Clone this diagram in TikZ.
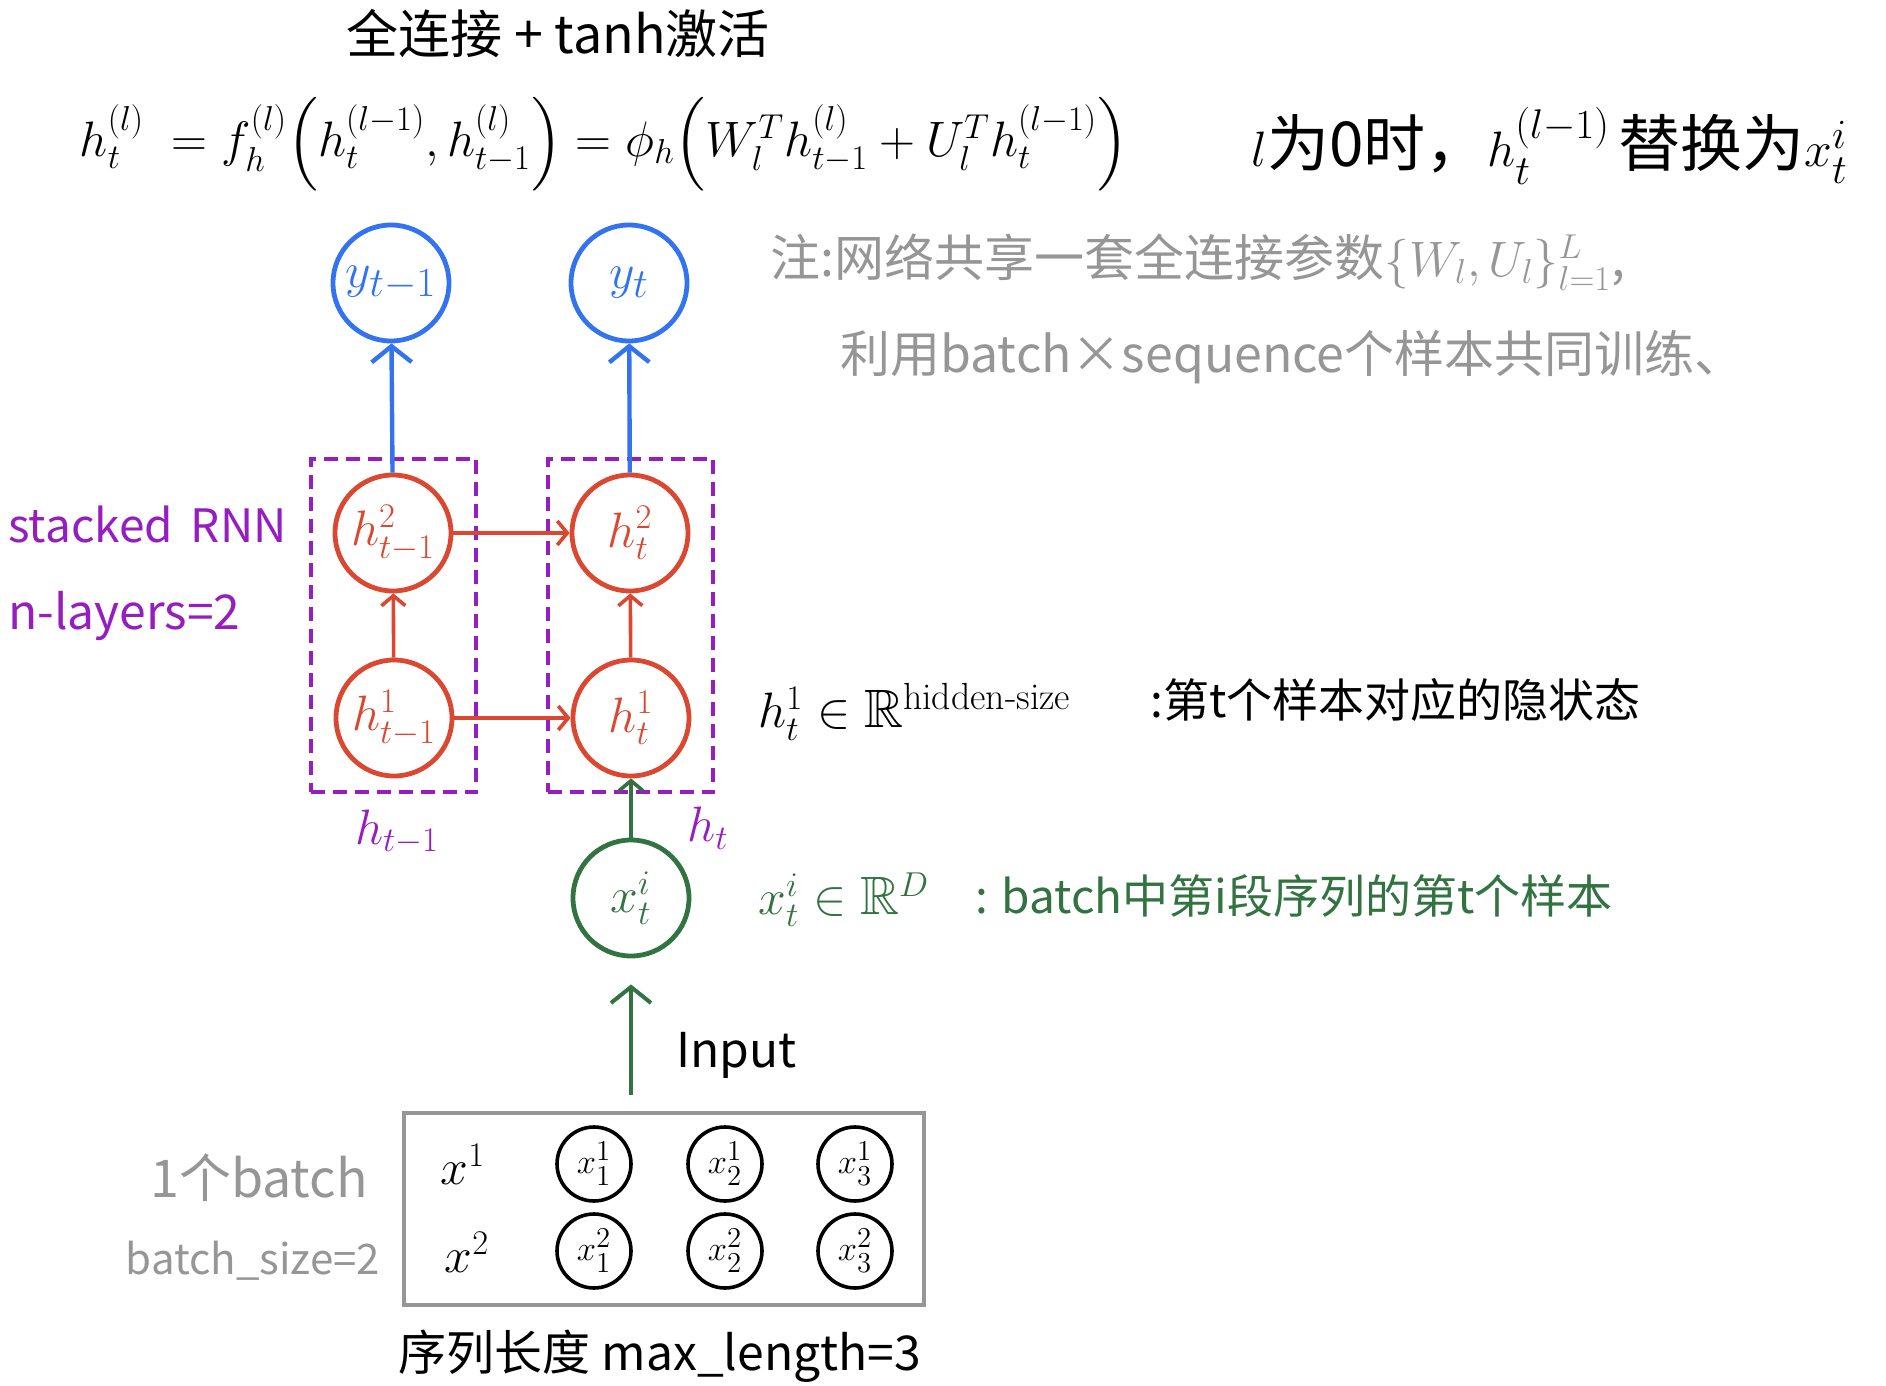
\documentclass[tikz,border=0pt]{standalone}
\usepackage{amsmath, amssymb}
\usepackage{fontspec}
\usepackage{xcolor}
\usepackage{tikz}
\usetikzlibrary{positioning, arrows.meta, calc, fit}
\newfontfamily\cjk{Noto Sans CJK SC}
\newcommand{\fsz}[1]{\fontsize{#1}{#1}\selectfont}
\definecolor{outblue}{RGB}{51,115,240}
\definecolor{hidred}{RGB}{218,72,50}
\definecolor{stackpurple}{RGB}{150,30,190}
\definecolor{ingreen}{RGB}{50,115,65}
\definecolor{notegray}{RGB}{150,150,150}

\begin{document}
\begin{tikzpicture}[x=0.5pt, y=-0.5pt,
        unit/.style={draw, circle, line width=2.4pt, minimum size=58pt, inner sep=0pt, font=\fsz{27}},
        outunit/.style={unit, draw=outblue, text=outblue},
        hidunit/.style={unit, draw=hidred, text=hidred},
        inunit/.style={unit, draw=ingreen, text=ingreen},
        sample/.style={draw, circle, line width=1.8pt, minimum size=37pt, inner sep=0pt, font=\fsz{19}},
        layerbox/.style={draw=stackpurple, line width=2pt, dash pattern=on 7pt off 4pt, inner xsep=11pt, inner ysep=7pt},
        batchbox/.style={draw=notegray, line width=2pt, minimum width=260pt, minimum height=96pt},
        txt/.style={font=\cjk\fsz{#1}, inner sep=0pt},
        arr/.style={-{Straight Barb[length=8pt, width=20pt]}, line width=2.2pt},
        sarr/.style={-{Straight Barb[length=5pt, width=12pt]}, line width=1.8pt}
    ]
    \useasboundingbox (0,0) rectangle (1886,1386);

    % Title and formula
    \node[txt=26] (title) at (558,34) {全连接 + tanh激活};
    \node[font=\fsz{26}, inner sep=0pt] (eq) at (604,144)
        {$h_t^{(l)}\; = f_h^{(l)}\Bigl(h_t^{(l-1)}, h_{t-1}^{(l)}\Bigr) = \phi_h\Bigl(W_l^T h_{t-1}^{(l)} + U_l^T h_t^{(l-1)}\Bigr)$};
    \node[txt=31, anchor=west] (zero) at (1251,146) {$l$为0时，$h_t^{(l-1)}\,$替换为$x_t^i$};

    % Note
    \node[txt=25, text=notegray, anchor=west] (note1) at (770,262) {注:网络共享一套全连接参数$\{W_l, U_l\}_{l=1}^{L}$,};
    \node[txt=25, text=notegray, anchor=west] (note2) at (840,357) {利用batch×sequence个样本共同训练、};

    % Outputs
    \node[outunit, font=\fsz{29}] (ya) at (391,283) {$y_{t-1}$};
    \node[outunit, font=\fsz{29}] (yb) at (629,283) {$y_t$};

    % Hidden layers
    \node[hidunit] (h2a) at (393,533) {$h^2_{t-1}$};
    \node[hidunit] (h2b) at (630,533) {$h^2_t$};
    \node[hidunit] (h1a) at (394,718) {$h^1_{t-1}$};
    \node[hidunit] (h1b) at (631,718) {$h^1_t$};
    \node[layerbox, fit=(h2a)(h1a)] (stacka) {};
    \node[layerbox, fit=(h2b)(h1b)] (stackb) {};
    \node[font=\fsz{26}, text=stackpurple] (laba) at (397,832) {$h_{t-1}$};
    \node[font=\fsz{26}, text=stackpurple] (labb) at (708,828) {$h_t$};
    \node[txt=23, text=stackpurple, anchor=west] (stacked) at (8,524) {stacked\, RNN};
    \node[txt=24, text=stackpurple, anchor=west] (nlay) at (8,616) {n-layers=2};

    % Input
    \node[inunit] (xin) at (631,898) {$x^i_t$};
    \node[txt=24, anchor=west] (input) at (676,1055) {Input};

    % Annotations
    \node[font=\fsz{27}, anchor=west, inner sep=0pt] (hdef) at (758,712) {$h^1_t \in \mathbb{R}^{\text{hidden-size}}$};
    \node[txt=23, anchor=west] (hnote) at (1150,700) {:第t个样本对应的隐状态};
    \node[font=\fsz{27}, anchor=west, inner sep=0pt, text=ingreen] (xdef) at (758,900) {$x^i_t \in \mathbb{R}^{D}$};
    \node[txt=23, anchor=west, text=ingreen] (xnote) at (975,896) {: batch中第i段序列的第t个样本};

    % Batch
    \node[batchbox] (batch) at (664,1209) {};
    \node[font=\fsz{25}] (row1) at (463,1164) {$x^1$};
    \node[font=\fsz{25}] (row2) at (467,1252) {$x^2$};
    \foreach \r in {1,2}
        \foreach \c/\xx in {1/594,2/725,3/855}
            \node[sample] (s\r\c) at (\xx,{1164+87*(\r-1)}) {$x^{\r}_{\c}$};
    \node[txt=26, text=notegray] (bat) at (259,1178) {1个batch};
    \node[txt=21, text=notegray] (bsize) at (253,1261) {batch\_size=2};
    \node[txt=24] (seqlen) at (660,1356) {序列长度 max\_length=3};

    % Arrows
    \draw[arr, outblue] (h2a) -- (ya);
    \draw[arr, outblue] (h2b) -- (yb);
    \draw[sarr, hidred] (h2a) -- (h2b);
    \draw[sarr, hidred] (h1a) -- (h1b);
    \draw[sarr, hidred] (h1a) -- (h2a);
    \draw[sarr, hidred] (h1b) -- (h2b);
    \draw[sarr, ingreen] (xin) -- (h1b);
    \coordinate (inp) at ($(xin |- batch.north)+(0,-16)$);
    \draw[arr, ingreen, line width=2pt, shorten >=13pt] (inp) -- (xin);

\end{tikzpicture}
\end{document}
